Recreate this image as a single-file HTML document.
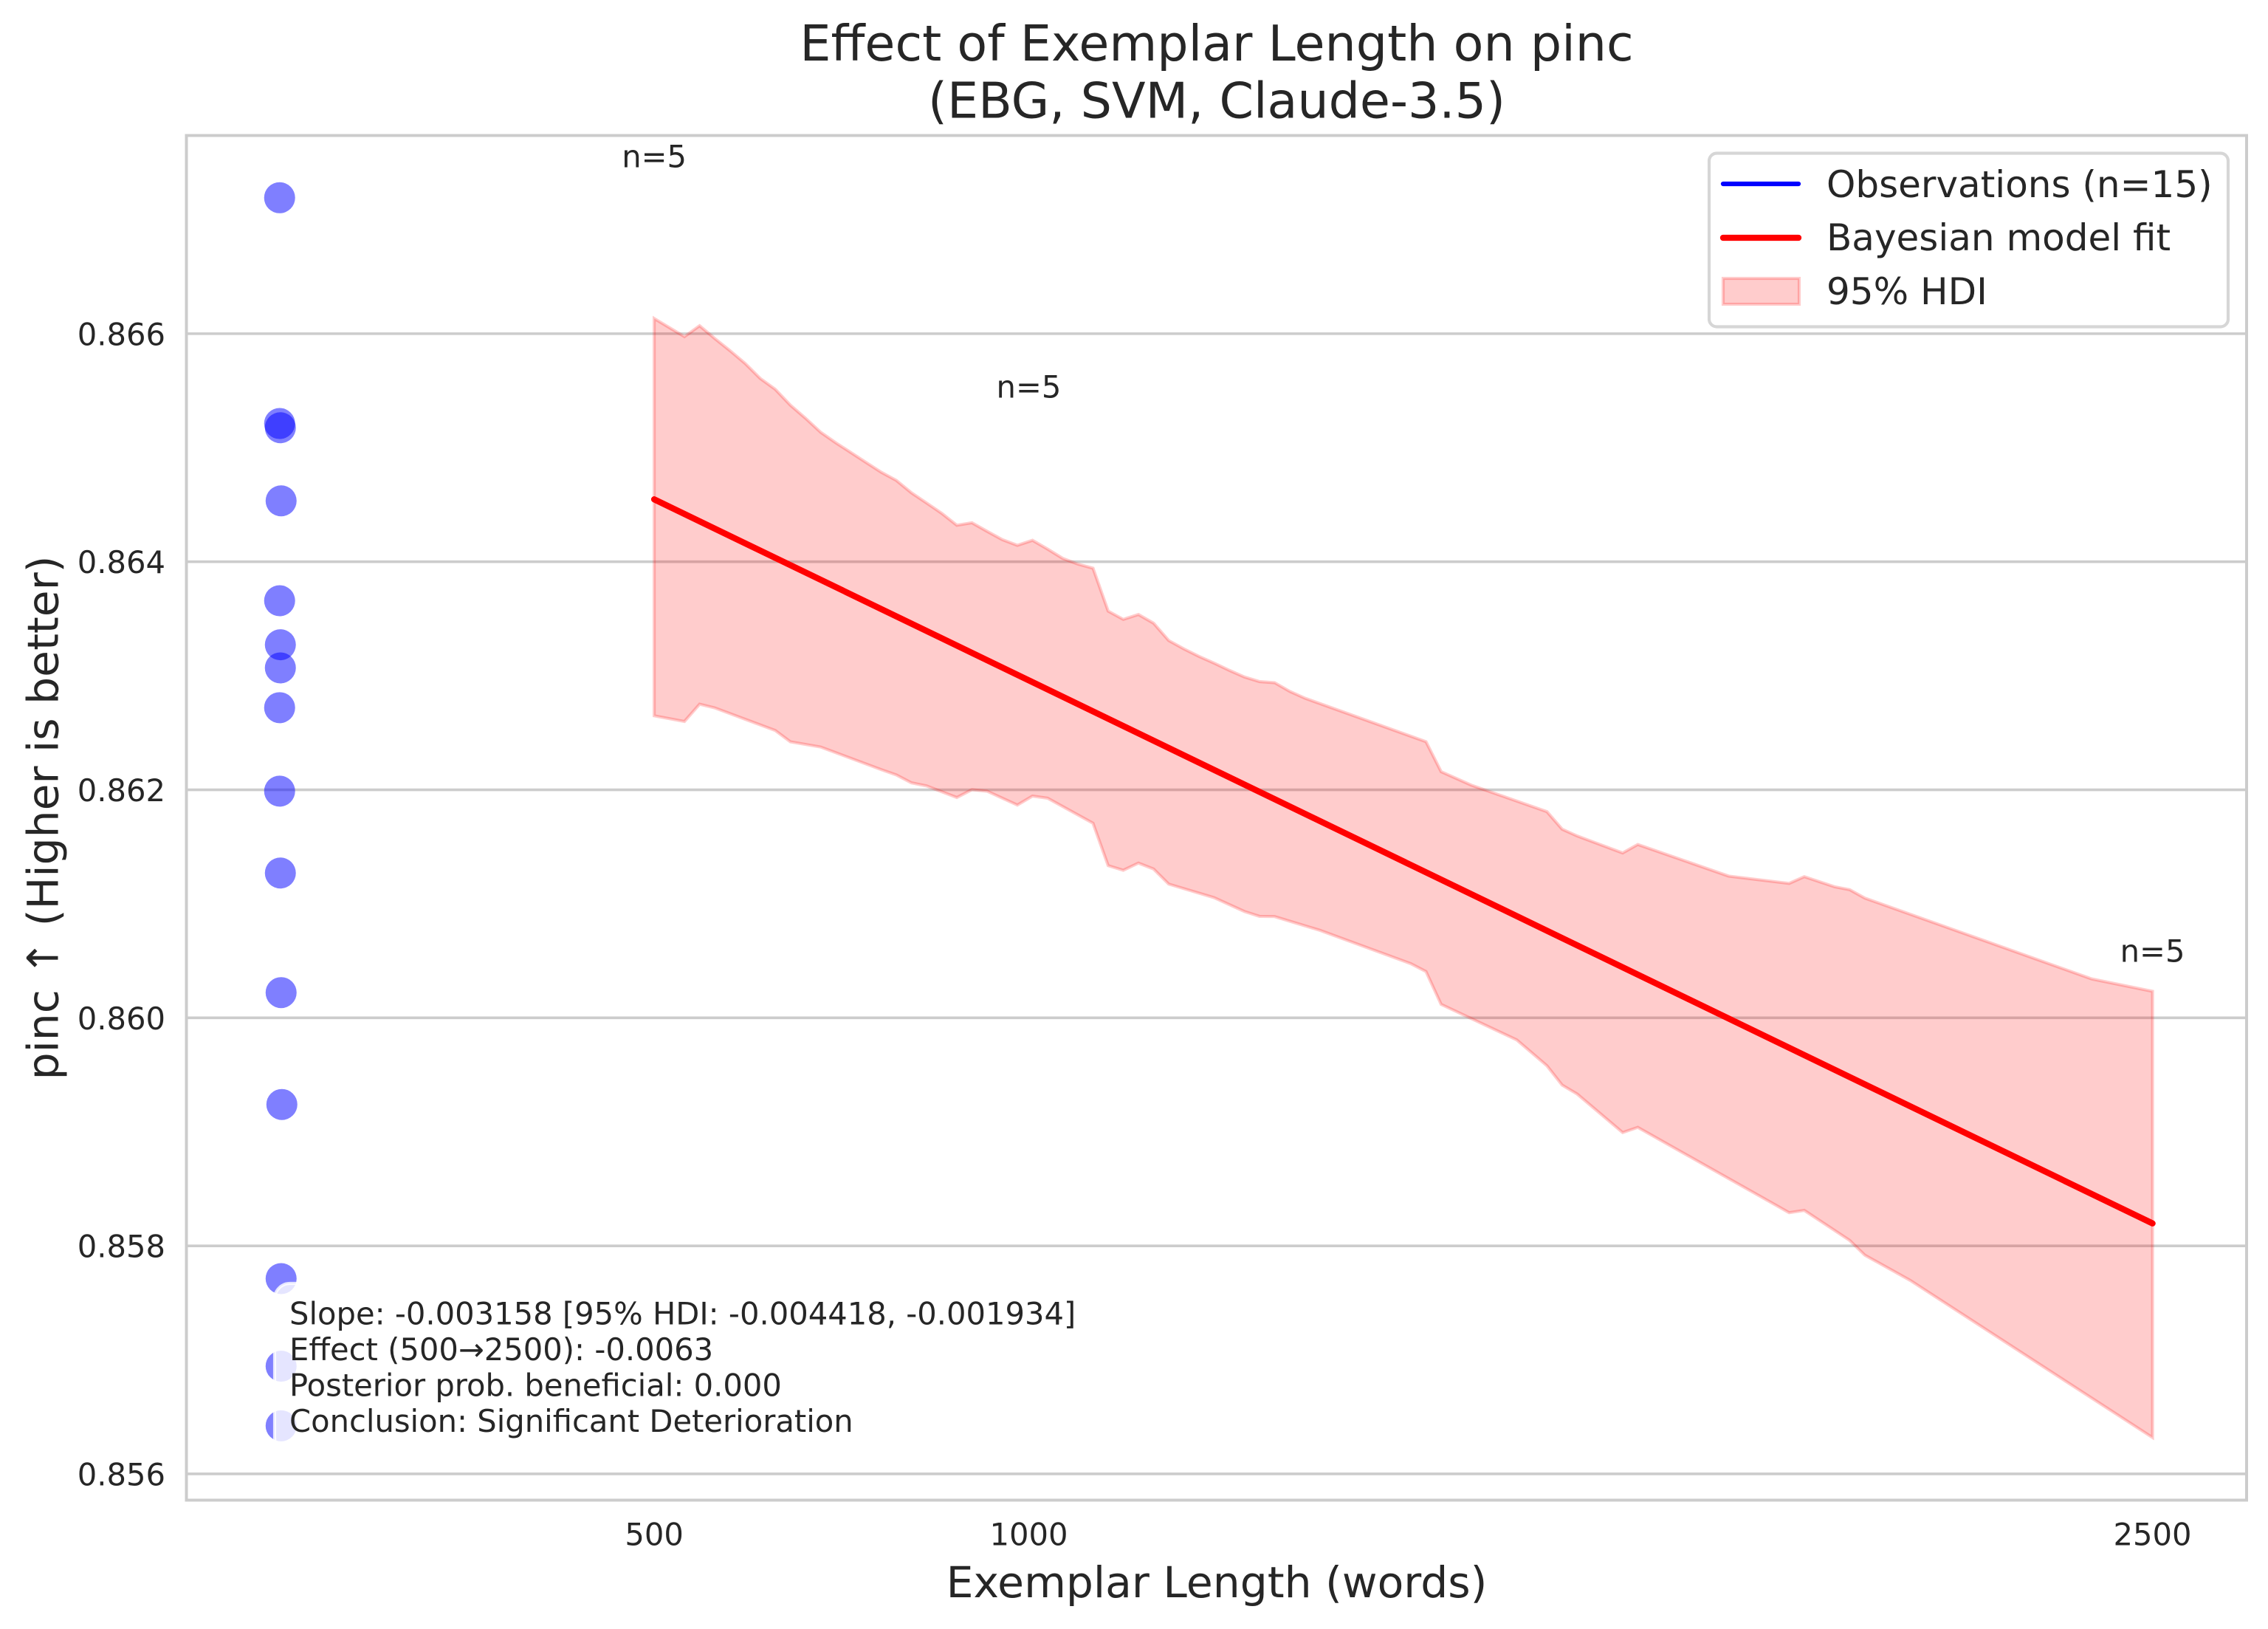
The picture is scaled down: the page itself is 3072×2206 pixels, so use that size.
<!DOCTYPE html>
<html lang="en">
<head>
<meta charset="utf-8">
<title>Effect of Exemplar Length on pinc</title>
<style>
html,body{margin:0;padding:0;background:#fff;}
svg{display:block;}
text{font-family:"DejaVu Sans","Liberation Sans",sans-serif;fill:#262626;}
</style>
</head>
<body>
<svg id="chart" xmlns="http://www.w3.org/2000/svg" width="3072" height="2206" viewBox="0 0 3072 2206">
  <rect x="0" y="0" width="3072" height="2206" fill="#ffffff"/>
  <g id="grid"></g>
  <g id="dots"></g>
  <g id="band"></g>
  <g id="fit"></g>
  <g id="counts"></g>

  <g fill="none" stroke="#cccccc" stroke-width="4">
    <rect x="252.5" y="183.5" width="2790.5" height="1848"/>
  </g>
  <g id="xticks"></g>
  <g id="yticks"></g>

  <g>
    <rect x="372" y="1738" width="1105" height="230" rx="20.8" ry="20.8" fill="#ffffff" fill-opacity="0.8" stroke="#ffffff" stroke-opacity="0.8" stroke-width="4.17"/>
    <text x="392" y="1793.5" font-size="41.67">Slope: -0.003158 [95% HDI: -0.004418, -0.001934]</text>
    <text x="392" y="1842" font-size="41.67">Effect (500→2500): -0.0063</text>
    <text x="392" y="1890.5" font-size="41.67">Posterior prob. beneficial: 0.000</text>
    <text x="392" y="1939" font-size="41.67">Conclusion: Significant Deterioration</text>
  </g>

  <g>
    <rect x="2315" y="207.5" width="703" height="235" rx="10.4" ry="10.4" fill="#ffffff" fill-opacity="0.8" stroke="#d6d6d6" stroke-width="4.17"/>
    <line x1="2334" y1="249" x2="2436" y2="249" stroke="#0000ff" stroke-width="6.25" stroke-linecap="round"/>
    <text x="2474" y="267" font-size="50">Observations (n=15)</text>
    <line x1="2334" y1="322" x2="2436" y2="322" stroke="#ff0000" stroke-width="8.33" stroke-linecap="round"/>
    <text x="2474" y="339" font-size="50">Bayesian model fit</text>
    <rect x="2334" y="377" width="103" height="35" fill="#ff0000" fill-opacity="0.2" stroke="#ff0000" stroke-opacity="0.2" stroke-width="4.17"/>
    <text x="2474" y="412" font-size="50">95% HDI</text>
  </g>

  <text x="1648" y="82" font-size="66.67" text-anchor="middle">Effect of Exemplar Length on pinc</text>
  <text x="1648" y="159.5" font-size="66.67" text-anchor="middle">(EBG, SVM, Claude-3.5)</text>
  <text x="1648" y="2163" font-size="58.33" text-anchor="middle">Exemplar Length (words)</text>
  <text transform="translate(78.5,1107.5) rotate(-90)" font-size="58.33" text-anchor="middle">pinc ↑ (Higher is better)</text>
</svg>

<script>
// ---- Axis limits ----
const xLimits = [-124.4, 2625.6];
const yLimits = [0.85577, 0.867738];

// ---- Tick values and labels ----
const xTickValues = [500, 1000, 2500];
const xTickLabels = ["500", "1000", "2500"];
const yTickValues = [0.856, 0.858, 0.860, 0.862, 0.864, 0.866];
const yTickLabels = ["0.856", "0.858", "0.860", "0.862", "0.864", "0.866"];

// ---- Observations ----
const obsLength = [0, 0, 1, 2, 0, 1, 1, 0, 0, 1, 2, 3, 2, 2, 2];
const obsPinc = [0.867192, 0.865212, 0.865175, 0.864534, 0.863658, 0.863272, 0.863069, 0.86272, 0.861988, 0.86127, 0.860221, 0.85924, 0.857713, 0.856945, 0.856422];

// ---- Bayesian model fit ----
const fitLength = [500, 2500];
const fitPinc = [0.864547, 0.858197];

// ---- 95% HDI, upper edge ----
const upperLength = [500, 540.4, 560.6, 580.8, 601, 621.2, 641.4, 661.6, 681.8, 702, 722.2, 742.4, 782.8, 803, 823.2, 843.4, 863.6, 883.8, 904, 924.2, 944.4, 964.6, 984.8, 1005, 1025.2, 1045.4, 1065.6, 1085.8, 1106, 1126.2, 1146.4, 1166.6, 1186.8, 1207, 1227.2, 1247.4, 1267.6, 1287.8, 1308, 1328.2, 1348.4, 1368.6, 1530.2, 1550.4, 1590.8, 1691.8, 1712, 1732.2, 1792.8, 1813, 1934.2, 2015, 2035.2, 2075.6, 2095.8, 2116, 2419, 2500];
const upperPinc = [0.866133, 0.865974, 0.86607, 0.865958, 0.865852, 0.86574, 0.865608, 0.865512, 0.865373, 0.865258, 0.865135, 0.865043, 0.864871, 0.864785, 0.864713, 0.864604, 0.864515, 0.864425, 0.86432, 0.864342, 0.864267, 0.864194, 0.864144, 0.864188, 0.864111, 0.864029, 0.863979, 0.863943, 0.863567, 0.863494, 0.863537, 0.863461, 0.863309, 0.863236, 0.86317, 0.863111, 0.863048, 0.862989, 0.862949, 0.862939, 0.862863, 0.862803, 0.862422, 0.862159, 0.86204, 0.861808, 0.861654, 0.861595, 0.861446, 0.86152, 0.861243, 0.861179, 0.861238, 0.861149, 0.861124, 0.86105, 0.860341, 0.860232];

// ---- 95% HDI, lower edge ----
const lowerLength = [500, 540.4, 560.6, 580.8, 661.6, 681.8, 722.2, 803, 823.2, 843.4, 863.6, 904, 924.2, 944.4, 984.8, 1005, 1025.2, 1045.4, 1085.8, 1106, 1126.2, 1146.4, 1166.6, 1186.8, 1247.4, 1287.8, 1308, 1328.2, 1388.8, 1510, 1530.2, 1550.4, 1651.4, 1691.8, 1712, 1732.2, 1792.8, 1813, 2015, 2035.2, 2095.8, 2116, 2176.6, 2500];
const lowerPinc = [0.862649, 0.862599, 0.862751, 0.862718, 0.86252, 0.862421, 0.862375, 0.862177, 0.86213, 0.862061, 0.862034, 0.861932, 0.862001, 0.861988, 0.861866, 0.861945, 0.861926, 0.861853, 0.861707, 0.861335, 0.861294, 0.861357, 0.861305, 0.861173, 0.861054, 0.860933, 0.86089, 0.860888, 0.860767, 0.860475, 0.860406, 0.860118, 0.859806, 0.859579, 0.85941, 0.859331, 0.858994, 0.859039, 0.858291, 0.858311, 0.858048, 0.857919, 0.857697, 0.856319];

// ---- Per-group sample-count labels ----
const countLength = [500, 1000, 2500];
const countPinc = [0.867461, 0.86544, 0.86049];
const countLabels = ["n=5", "n=5", "n=5"];

// ---- Axis functions ----
const NS = "http://www.w3.org/2000/svg";
function xScale(v) {
  return 252.5 + (v - xLimits[0]) / (xLimits[1] - xLimits[0]) * 2790.5;
}
function yScale(v) {
  return 2031.5 - (v - yLimits[0]) / (yLimits[1] - yLimits[0]) * 1848;
}
function make(tag, parent) {
  const el = document.createElementNS(NS, tag);
  document.getElementById(parent).appendChild(el);
  return el;
}

// Horizontal gridlines and y tick labels
yTickValues.forEach(function (v, i) {
  const line = make("line", "grid");
  
  
  line.setAttribute("x1", 252.5);
  line.setAttribute("x2", 3043);
  line.setAttribute("y1", yScale(v));
  line.setAttribute("y2", yScale(v));
  line.setAttribute("stroke", "#cccccc");
  line.setAttribute("stroke-width", 3.6);

  const label = make("text", "yticks");
  
  
  label.setAttribute("x", 224);
  label.setAttribute("y", yScale(v) + 15.5);
  label.setAttribute("font-size", 41.67);
  label.setAttribute("text-anchor", "end");
  label.textContent = yTickLabels[i];
});

// X tick labels
xTickValues.forEach(function (v, i) {
  const label = make("text", "xticks");
  
  
  label.setAttribute("x", xScale(v));
  label.setAttribute("y", 2092.5);
  label.setAttribute("font-size", 41.67);
  label.setAttribute("text-anchor", "middle");
  label.textContent = xTickLabels[i];
});

// Observation points
obsPinc.forEach(function (v, i) {
  const dot = make("circle", "dots");
  
  
  dot.setAttribute("cx", xScale(obsLength[i]));
  dot.setAttribute("cy", yScale(v));
  dot.setAttribute("r", 21);
  dot.setAttribute("fill", "#0000ff");
  dot.setAttribute("fill-opacity", 0.5);
});

// HDI band
const upperPts = upperPinc.map(function (v, i) {
  return xScale(upperLength[i]).toFixed(1) + "," + yScale(v).toFixed(1);
});
const lowerPts = lowerPinc.map(function (v, i) {
  return xScale(lowerLength[i]).toFixed(1) + "," + yScale(v).toFixed(1);
}).reverse();
const band = make("polygon", "band");


band.setAttribute("points", upperPts.concat(lowerPts).join(" "));
band.setAttribute("fill", "#ff0000");
band.setAttribute("fill-opacity", 0.2);
band.setAttribute("stroke", "#ff0000");
band.setAttribute("stroke-opacity", 0.2);
band.setAttribute("stroke-width", 4.17);

// Fit line
const fit = make("polyline", "fit");


fit.setAttribute("points", fitPinc.map(function (v, i) {
  return xScale(fitLength[i]).toFixed(1) + "," + yScale(v).toFixed(1);
}).join(" "));
fit.setAttribute("fill", "none");
fit.setAttribute("stroke", "#ff0000");
fit.setAttribute("stroke-width", 8.33);
fit.setAttribute("stroke-linecap", "round");

// Sample-count labels
countLabels.forEach(function (t, i) {
  const label = make("text", "counts");
  
  
  label.setAttribute("x", xScale(countLength[i]));
  label.setAttribute("y", yScale(countPinc[i]));
  label.setAttribute("font-size", 41.67);
  label.setAttribute("text-anchor", "middle");
  label.textContent = t;
});
</script>
</body>
</html>
